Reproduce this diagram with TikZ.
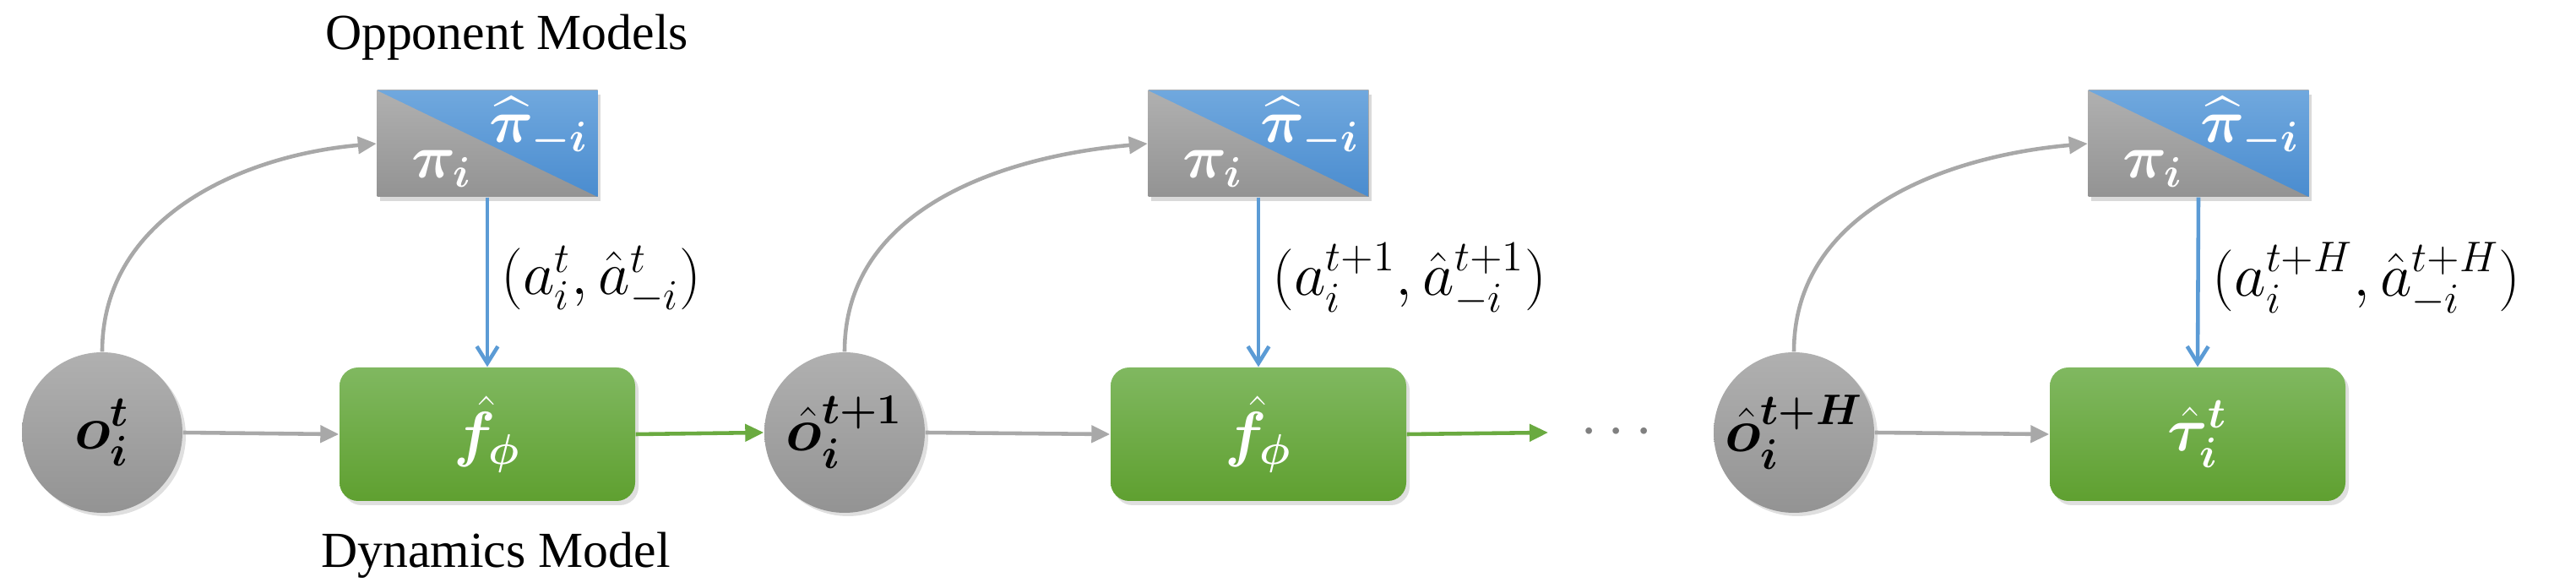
\documentclass[tikz,border=0pt]{standalone}
\usepackage{amsmath,bm}
\usepackage{fontspec}
\setmainfont{Liberation Serif}
\usetikzlibrary{arrows.meta,shadows}
\definecolor{gtop}{HTML}{B0B0B0}\definecolor{gbot}{HTML}{939393}
\definecolor{grtop}{HTML}{80B860}\definecolor{grbot}{HTML}{5FA030}
\definecolor{btop}{HTML}{70A8DE}\definecolor{bbot}{HTML}{4A8CCF}
\definecolor{garrow}{HTML}{A8A8A8}\definecolor{barrow}{HTML}{5B9BD5}\definecolor{grarrow}{HTML}{6AAA40}
\tikzset{
 obs/.style={circle,minimum size=1.9cm,inner sep=0pt,top color=gtop,bottom color=gbot,draw=none,drop shadow={opacity=0.25,shadow xshift=0.04cm,shadow yshift=-0.04cm},font=\fontsize{22}{24}\selectfont},
 dyn/.style={rounded corners=0.22cm,minimum width=3.5cm,minimum height=1.58cm,top color=grtop,bottom color=grbot,draw=none,text=white,drop shadow={opacity=0.25,shadow xshift=0.04cm,shadow yshift=-0.05cm},font=\fontsize{22}{24}\selectfont},
 opp/.style={minimum width=2.61cm,minimum height=1.26cm,inner sep=0pt,draw=none,drop shadow={opacity=0.3,shadow xshift=0.03cm,shadow yshift=-0.05cm},fill=gbot,
   path picture={
     \shade[top color=gtop,bottom color=gbot] (path picture bounding box.south west) rectangle (path picture bounding box.north east);
     \shade[top color=btop,bottom color=bbot] (path picture bounding box.north west) -- (path picture bounding box.north east) -- (path picture bounding box.south east) -- cycle;}},
 wlab/.style={text=white,font=\fontsize{22}{24}\selectfont,inner sep=0pt},
 lab/.style={font=\fontsize{20}{22}\selectfont,anchor=west,inner sep=0pt},
 title/.style={font=\fontsize{17}{20}\selectfont},
 ga/.style={draw=garrow,line width=1.3pt,-{Triangle[length=0.22cm,width=0.2cm]}},
 ba/.style={draw=barrow,line width=1.3pt,-{Straight Barb[length=0.2cm,width=0.25cm]}},
 gra/.style={draw=grarrow,line width=1.3pt,-{Triangle[length=0.22cm,width=0.2cm]}},
}
\begin{document}
\begin{tikzpicture}
\useasboundingbox (0,0) rectangle (30.5,6.96);
% group 1
\node[obs] (c1) at (1.21,1.84) {$\bm{o_i^t}$};
\node[dyn] (f1) at (5.77,1.82) {$\bm{\hat f_{\phi}}$};
\node[opp] (p1) at (5.77,5.26) {};
\node[wlab] (p1a) at (5.23,4.96) {$\bm{\pi_i}$};
\node[wlab] (p1b) at (6.38,5.45) {$\bm{\widehat{\pi}_{-i}}$};
\node[title] (t1) at (6.0,6.52) {Opponent Models};
\node[title] (t2) at (5.87,0.39) {Dynamics Model};
\node[lab] (l1) at (5.93,3.65) {$(a_i^t,\hat a_{-i}^t)$};
% group 2
\node[obs] (c2) at (10.0,1.84) {$\bm{\hat o_i^{t+1}}$};
\node[dyn] (f2) at (14.9,1.82) {$\bm{\hat f_{\phi}}$};
\node[opp] (p2) at (14.9,5.26) {};
\node[wlab] (p2a) at (14.36,4.96) {$\bm{\pi_i}$};
\node[wlab] (p2b) at (15.51,5.45) {$\bm{\widehat{\pi}_{-i}}$};
\node[lab] (l2) at (15.06,3.65) {$(a_i^{t+1},\hat a_{-i}^{t+1})$};
\coordinate (e2) at (18.33,1.84);
\node[font=\fontsize{20}{22}\selectfont,text=gray] (dots) at (19.2,1.84) {$\cdots$};
% group 3
\node[obs] (c3) at (21.24,1.84) {$\bm{\hat o_i^{t+H}}$};
\node[dyn] (f3) at (26.02,1.82) {$\bm{\hat \tau_i^{t}}$};
\node[opp] (p3) at (26.03,5.26) {};
\node[wlab] (p3a) at (25.49,4.96) {$\bm{\pi_i}$};
\node[wlab] (p3b) at (26.64,5.45) {$\bm{\widehat{\pi}_{-i}}$};
\node[lab] (l3) at (26.19,3.65) {$(a_i^{t+H},\hat a_{-i}^{t+H})$};
% connectors
\foreach \i in {1,2,3}{
  \draw[ga] (c\i.north) to[out=90,in=185] (p\i.west);
  \draw[ba] (p\i.south) -- (f\i.north);
  \draw[ga] (c\i.east) -- (f\i.west);
}
\draw[gra] (f1.east) -- (c2.west);
\draw[gra] (f2.east) -- (e2);
\end{tikzpicture}
\end{document}
